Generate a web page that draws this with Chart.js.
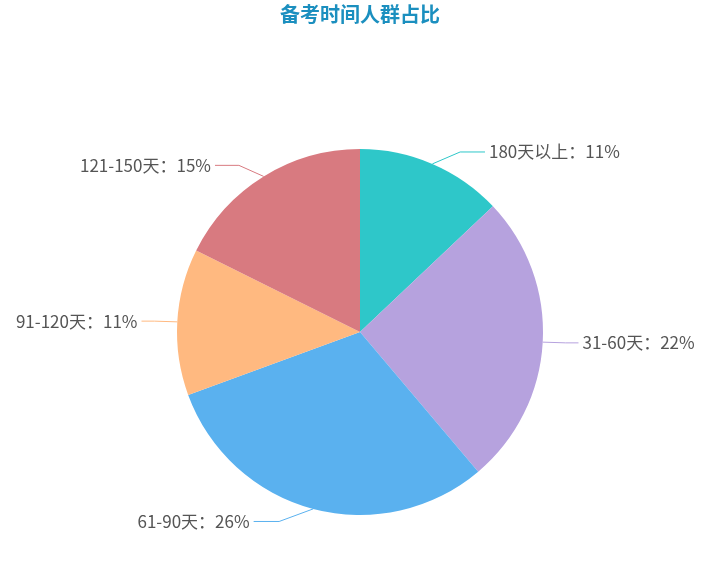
<!DOCTYPE html>
<html>
<head>
<meta charset="utf-8">
<script src="https://cdn.jsdelivr.net/npm/chart.js@4"></script>
<style>
  html, body { margin: 0; padding: 0; background: #fff; }
  .base-graf { position: relative; width: 710px; height: 568px; }
</style>
</head>
<body>
<div class="base-graf"><canvas id="graficaPastel"></canvas></div>
<script>
const categorias = ['180天以上', '31-60天', '61-90天', '91-120天', '121-150天'];
const valores = [11, 22, 26, 11, 15];
const colores = ['#2ec7c9', '#b6a2de', '#5ab1ef', '#ffb980', '#d87a80'];
const titulo = '备考时间人群占比';

// etiquetas por fuera con linea guia (estilo echarts)
const etiquetasFuera = {
  id: 'etiquetasFuera',
  afterDatasetsDraw(chart) {
    const ctx = chart.ctx;
    const meta = chart.getDatasetMeta(0);
    ctx.save();
    ctx.font = '17px "Noto Sans CJK SC", "Noto Sans", sans-serif';
    ctx.textBaseline = 'middle';
    ctx.lineWidth = 1;
    meta.data.forEach((arc, i) => {
      const p = arc.getProps(['x', 'y', 'startAngle', 'endAngle', 'outerRadius'], true);
      const medio = (p.startAngle + p.endAngle) / 2;
      const cos = Math.cos(medio), sin = Math.sin(medio);
      const x1 = p.x + cos * p.outerRadius;
      const y1 = p.y + sin * p.outerRadius;
      const yEt = p.y + sin * (p.outerRadius + 13);
      const r2 = p.outerRadius + 23;
      const dir = cos >= 0 ? 1 : -1;
      const x2 = p.x + dir * Math.sqrt(Math.max(r2 * r2 - (yEt - p.y) ** 2, 0));
      const x3 = x2 + dir * (12 + 14 * Math.abs(sin));

      ctx.strokeStyle = colores[i];
      ctx.beginPath();
      ctx.moveTo(x1, y1);
      ctx.lineTo(x2, yEt);
      ctx.lineTo(x3, yEt);
      ctx.stroke();

      ctx.fillStyle = '#555';
      ctx.textAlign = dir > 0 ? 'left' : 'right';
      ctx.fillText(categorias[i] + '：' + valores[i] + '%', x3 + dir * 4, yEt);
    });
    ctx.restore();
  },
  afterDraw(chart) {
    const ctx = chart.ctx;
    const arc = chart.getDatasetMeta(0).data[0];
    ctx.save();
    ctx.font = 'bold 20px "Noto Sans CJK SC", sans-serif';
    ctx.fillStyle = '#1b8fbf';
    ctx.textAlign = 'center';
    ctx.textBaseline = 'middle';
    ctx.fillText(titulo, arc.x, 14);
    ctx.restore();
  }
};

const grafica = document.getElementById('graficaPastel').getContext('2d');

new Chart(grafica, {
  type: 'pie',
  data: {
    labels: categorias,
    datasets: [{
      data: valores,
      backgroundColor: colores,
      borderWidth: 0,
    }]
  },
  options: {
    responsive: true,
    maintainAspectRatio: false,
    animation: false,
    layout: {
      padding: { left: 177, right: 167, top: 149, bottom: 53 }
    },
    plugins: {
      legend: { display: false },
      tooltip: { enabled: true }
    }
  },
  plugins: [etiquetasFuera]
});
</script>
</body>
</html>
